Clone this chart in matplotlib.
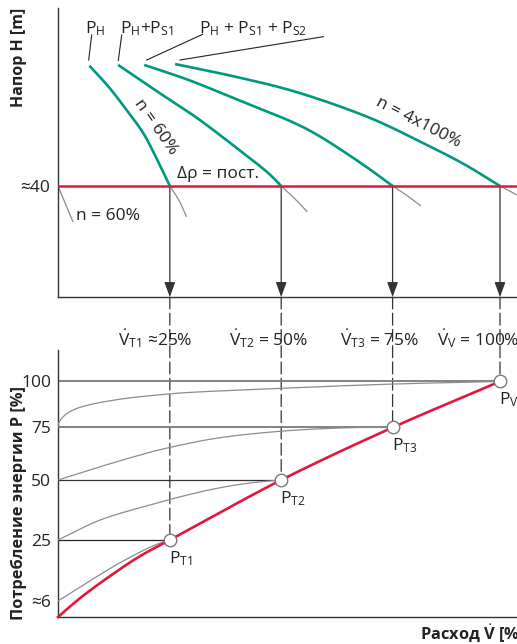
import numpy as np
import matplotlib
matplotlib.use('Agg')
import matplotlib.pyplot as plt
from matplotlib.patches import ConnectionPatch
from matplotlib.lines import Line2D

plt.rcParams['font.family'] = ['Open Sans', 'DejaVu Sans']
plt.rcParams['mathtext.fontset'] = 'custom'
plt.rcParams['mathtext.rm'] = 'Open Sans'
plt.rcParams['mathtext.it'] = 'Open Sans:italic'
plt.rcParams['mathtext.bf'] = 'Open Sans:bold'

# ---------------- data ----------------
flow_T = [25.3, 50.5, 75.7, 100.0]        # flow % at operating points
power_T = [25, 50, 75, 100]               # power % at operating points
head_set = 40                             # constant differential pressure (m)

pump1_q = [7.1, 11.4, 15.5, 19.3, 21.9, 25.3]
pump1_h = [83.3, 75.8, 67.4, 59.0, 51.2, 40.0]
pump2_q = [13.6, 21.9, 31.0, 40.0, 47.6, 50.5]
pump2_h = [83.6, 74.6, 65.0, 54.2, 44.6, 40.0]
pump3_q = [19.5, 29.5, 41.6, 53.6, 59.3, 69.1, 75.7]
pump3_h = [83.6, 78.2, 70.4, 62.6, 57.8, 47.6, 40.0]
pump4_q = [26.5, 40.0, 53.6, 70.6, 81.9, 91.7, 100.0]
pump4_h = [83.9, 79.4, 74.0, 64.5, 56.0, 48.0, 40.0]

ext0_q = [0.0, 3.4];            ext0_h = [40.0, 27.0]
ext1_q = [25.3, 27.3, 29.1];    ext1_h = [40.0, 35.0, 28.9]
ext2_q = [50.5, 53.5, 56.4];    ext2_h = [40.0, 35.5, 30.7]
ext3_q = [75.7, 79.0, 82.1];    ext3_h = [40.0, 36.5, 32.8]
ext4_q = [100.0, 103.8];        ext4_h = [40.0, 36.8]

red_q = [0, 5.0, 11.8, 18.6, 25.3, 50.5, 75.7, 100.0]
red_p = [0, 6.9, 13.8, 20.0, 25, 50, 75, 100]

grayD_q = [0, 6.9, 14.4, 21.9, 25.3]
grayD_p = [6, 12.0, 18.2, 23.4, 25]
grayC_q = [0, 9.5, 20.8, 28.3, 35.9, 43.4, 50.5]
grayC_p = [25, 33.3, 39.6, 43.3, 46.5, 48.75, 50]
grayB_q = [0, 9.5, 20.8, 25.3, 35.9, 50.9, 66.1, 75.7]
grayB_p = [50, 56.3, 63.2, 65.5, 69.9, 73.3, 74.9, 75]
grayA_q = [0, 0.1, 1.6, 3.8, 6.9, 14.4, 25.0, 28.7, 50.6, 75.8, 100.0]
grayA_p = [75, 77.3, 81.8, 84.9, 87.2, 90.5, 93.2, 93.9, 96.3, 98.6, 100]

p_ticks = [6, 25, 50, 75, 100]
p_ticklabels = ['≈6', '25', '50', '75', '100']

# ---------------- styles ----------------
GREEN = '#00997F'
RED = '#E3173E'
GRAY = '#8C8C8C'
DARK = '#333333'
TXT = '#222222'
FS = 12.5

W, H = 517, 644
fig = plt.figure(figsize=(W / 100, H / 100), dpi=100)


def fx(x):
    return x / W


def fy(y):
    return 1 - y / H


def smooth_plot(ax, q, v, n=40, **kw):
    """Draw a smooth centripetal Catmull-Rom curve through the given points
    (computed in display space, mapped back through the axes' transform)."""
    pts = ax.transData.transform(np.column_stack([q, v]))
    if len(pts) < 3:
        return ax.plot(q, v, **kw)
    P = np.vstack([2 * pts[0] - pts[1], pts, 2 * pts[-1] - pts[-2]])
    out = []
    for i in range(1, len(P) - 2):
        p0, p1, p2, p3 = P[i - 1], P[i], P[i + 1], P[i + 2]
        t0 = 0.0
        t1 = t0 + max(np.linalg.norm(p1 - p0), 1e-6) ** 0.5
        t2 = t1 + max(np.linalg.norm(p2 - p1), 1e-6) ** 0.5
        t3 = t2 + max(np.linalg.norm(p3 - p2), 1e-6) ** 0.5
        t = np.linspace(t1, t2, n)[:, None]
        A1 = (t1 - t) / (t1 - t0) * p0 + (t - t0) / (t1 - t0) * p1
        A2 = (t2 - t) / (t2 - t1) * p1 + (t - t1) / (t2 - t1) * p2
        A3 = (t3 - t) / (t3 - t2) * p2 + (t - t2) / (t3 - t2) * p3
        B1 = (t2 - t) / (t2 - t0) * A1 + (t - t0) / (t2 - t0) * A2
        B2 = (t3 - t) / (t3 - t1) * A2 + (t - t1) / (t3 - t1) * A3
        C = (t2 - t) / (t2 - t1) * B1 + (t - t1) / (t2 - t1) * B2
        out.append(C if i == 1 else C[1:])
    out = np.vstack(out)
    back = ax.transData.inverted().transform(out)
    return ax.plot(back[:, 0], back[:, 1], **kw)


ax1 = fig.add_axes([fx(58), fy(297), fx(517) - fx(58), fy(8) - fy(297)])
ax2 = fig.add_axes([fx(58), fy(617), fx(517) - fx(58), fy(350) - fy(617)])

for ax in (ax1, ax2):
    for s in ('top', 'right'):
        ax.spines[s].set_visible(False)
    for s in ('left', 'bottom'):
        ax.spines[s].set_color(DARK)
        ax.spines[s].set_linewidth(1.0)
    ax.set_xlim(0, 103.85)
    ax.set_xticks([])
    ax.tick_params(axis='y', length=0, labelsize=FS, colors=TXT)

# ---------------- top chart ----------------
ax1.set_ylim(0, 104.1)
ax1.set_yticks([head_set])
ax1.set_yticklabels(['≈40'])
ax1.tick_params(axis='y', pad=6)

for q, h in [(ext0_q, ext0_h), (ext1_q, ext1_h), (ext2_q, ext2_h),
             (ext3_q, ext3_h), (ext4_q, ext4_h)]:
    smooth_plot(ax1, q, h, color=GRAY, lw=0.9, zorder=2, solid_capstyle='butt')

for q, h in [(pump1_q, pump1_h), (pump2_q, pump2_h),
             (pump3_q, pump3_h), (pump4_q, pump4_h)]:
    smooth_plot(ax1, q, h, color=GREEN, lw=1.9, zorder=3, solid_capstyle='butt')

ax1.axhline(head_set, color=RED, lw=1.8, zorder=4)

for q in flow_T:
    ax1.annotate('', xy=(q, 0), xytext=(q, head_set),
                 arrowprops=dict(arrowstyle='-|>,head_length=0.9,head_width=0.33',
                                 color=DARK, lw=0.9, mutation_scale=10,
                                 shrinkA=0, shrinkB=0), zorder=3)

fig.text(fx(156), fy(127), 'n = 60%', fontsize=FS, rotation=-55, rotation_mode='anchor',
         ha='center', va='center', color=TXT)
fig.text(fx(418), fy(123), 'n = 4x100%', fontsize=FS, rotation=-27, rotation_mode='anchor',
         ha='center', va='center', color=TXT)

fig.text(fx(177), fy(174), 'Δρ = пост.', fontsize=FS, ha='left', va='center', color=TXT)
fig.text(fx(76), fy(216), 'n = 60%', fontsize=FS, ha='left', va='center', color=TXT)

# labels for pump curves + leader lines
fig.text(fx(85), fy(33), r'P$_\mathrm{H}$', fontsize=FS, ha='left', va='baseline', color=TXT)
fig.text(fx(120), fy(33), r'P$_\mathrm{H}$+P$_\mathrm{S1}$', fontsize=FS, ha='left',
         va='baseline', color=TXT)
fig.text(fx(199), fy(33), r'P$_\mathrm{H}$ + P$_\mathrm{S1}$ + P$_\mathrm{S2}$', fontsize=FS,
         ha='left', va='baseline', color=TXT)
for (x0, y0, x1, y1) in [(91.7, 35, 88.7, 60), (121.7, 35, 118.3, 60.5),
                         (202.7, 34.3, 146.7, 60), (323.3, 36.7, 180, 60)]:
    fig.add_artist(Line2D([fx(x0), fx(x1)], [fy(y0), fy(y1)], transform=fig.transFigure,
                          color=TXT, lw=0.8))

fig.text(fx(19), fy(57), 'Напор H [m]', fontsize=11.5, fontweight='bold', rotation=90,
         ha='center', va='center', color=TXT)

# ---------------- bottom chart ----------------
scale_vals = [0, 6, 25, 50, 75, 100, 140]
scale_pos = [0, 16, 77, 137, 189.5, 235.5, 309.1]


def fwd(v):
    return np.interp(np.asarray(v, dtype=float), scale_vals, scale_pos)


def inv(h):
    return np.interp(np.asarray(h, dtype=float), scale_pos, scale_vals)


ax2.set_yscale('function', functions=(fwd, inv))
ax2.set_ylim(0, 117.1)
ax2.set_yticks(p_ticks)
ax2.set_yticklabels(p_ticklabels)
ax2.yaxis.set_minor_locator(matplotlib.ticker.NullLocator())
ax2.tick_params(axis='y', pad=5)

hl_colors = ['#222222', '#333333', '#7a7a7a', '#7a7a7a']
hl_widths = [0.9, 0.9, 1.3, 1.3]
for q, p, c, w in zip(flow_T, power_T, hl_colors, hl_widths):
    ax2.plot([0, q], [p, p], color=c, lw=w, zorder=2)

for q, p in [(grayA_q, grayA_p), (grayB_q, grayB_p), (grayC_q, grayC_p), (grayD_q, grayD_p)]:
    smooth_plot(ax2, q, p, color=GRAY, lw=0.9, zorder=3)

smooth_plot(ax2, red_q, red_p, color=RED, lw=1.9, zorder=4, clip_on=False)

ax2.plot(flow_T, power_T, 'o', ms=9, mfc='white', mec='#7a7a7a', mew=1.0, zorder=6,
         clip_on=False)

for q, p in zip(flow_T, power_T):
    con = ConnectionPatch(xyA=(q, 0), coordsA=ax1.transData, xyB=(q, p), coordsB=ax2.transData,
                          color=DARK, lw=0.9, linestyle=(0, (9.5, 3.5)), shrinkB=4.5,
                          zorder=1, clip_on=False)
    ax2.add_artist(con)

sub_labels = ['T1', 'T2', 'T3', 'V']
for q, p, s in zip(flow_T, power_T, sub_labels):
    ax2.annotate(r'P$_\mathrm{%s}$' % s, xy=(q, p), xytext=(-1, -9),
                 textcoords='offset pixels', ha='left', va='top', fontsize=FS,
                 color=TXT, annotation_clip=False)

flow_texts = [r'$\dot{\mathrm{V}}_\mathrm{T1}$ ≈25%', r'$\dot{\mathrm{V}}_\mathrm{T2}$ = 50%',
              r'$\dot{\mathrm{V}}_\mathrm{T3}$ = 75%', r'$\dot{\mathrm{V}}_\mathrm{V}$ = 100%']
for x, t in zip([118, 229, 340, 437], flow_texts):
    fig.text(fx(x), fy(339), t, fontsize=FS, ha='left', va='center', color=TXT)

fig.text(fx(19), fy(503), 'Потребление энергии P [%]', fontsize=11.8, fontweight='bold',
         rotation=90, ha='center', va='center', color=TXT)
fig.text(fx(420), fy(633), r'Расход $\mathbf{\dot{V}}$ [%]', fontsize=11.8, fontweight='bold',
         ha='left', va='center', color=TXT)

fig.savefig('out.png', dpi=100)
